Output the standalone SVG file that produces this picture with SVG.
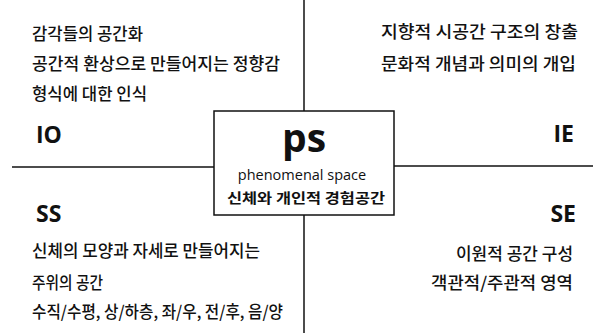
<svg xmlns="http://www.w3.org/2000/svg" width="593" height="333" viewBox="0 0 593 333">
<style>
.t{font-family:"Noto Sans CJK KR","Noto Sans",sans-serif;font-size:16.5px;font-weight:500;fill:#111}
.lab{font-family:"Open Sans","Noto Sans",sans-serif;font-weight:bold;font-size:23px;fill:#111}
.ln{stroke:#111;stroke-width:1.5;fill:none}
</style>
<rect width="593" height="333" fill="#fff"/>
<g id="connectors">
<line class="ln" x1="304" y1="0" x2="304" y2="111"/>
<line class="ln" x1="304" y1="215" x2="304" y2="333"/>
<line class="ln" x1="12" y1="167" x2="214" y2="167"/>
<line class="ln" x1="394" y1="166" x2="593" y2="166"/>
</g>
<g id="center">
<rect class="ln" x="214" y="111" width="180" height="104"/>
<text x="304" y="152" text-anchor="middle" style="font-family:'Open Sans',sans-serif;font-weight:bold;font-size:39px;fill:#111">ps</text>
<text x="302" y="180" text-anchor="middle" style="font-family:'Open Sans',sans-serif;font-size:14.5px;fill:#111">phenomenal space</text>
<text x="306" y="203" text-anchor="middle" class="t" style="font-weight:bold;font-size:14px" textLength="158" lengthAdjust="spacingAndGlyphs">신체와 개인적 경험공간</text>
</g>
<g id="IO">
<text class="lab" x="36" y="143">IO</text>
<text class="t" x="32" y="40" textLength="111" lengthAdjust="spacingAndGlyphs">감각들의 공간화</text>
<text class="t" x="32" y="70" textLength="248" lengthAdjust="spacingAndGlyphs">공간적 환상으로 만들어지는 정향감</text>
<text class="t" x="32" y="100" textLength="115" lengthAdjust="spacingAndGlyphs">형식에 대한 인식</text>
</g>
<g id="IE">
<text class="lab" x="574" y="142" text-anchor="end">IE</text>
<text class="t" x="381" y="38" textLength="197" lengthAdjust="spacingAndGlyphs">지향적 시공간 구조의 창출</text>
<text class="t" x="381" y="70" textLength="195" lengthAdjust="spacingAndGlyphs">문화적 개념과 의미의 개입</text>
</g>
<g id="SS">
<text class="lab" x="36" y="222">SS</text>
<text class="t" x="32" y="257" textLength="228" lengthAdjust="spacingAndGlyphs">신체의 모양과 자세로 만들어지는</text>
<text class="t" x="32" y="289" textLength="71" lengthAdjust="spacingAndGlyphs">주위의 공간</text>
<text class="t" x="32" y="318" textLength="251" lengthAdjust="spacingAndGlyphs">수직/수평, 상/하층, 좌/우, 전/후, 음/양</text>
</g>
<g id="SE">
<text class="lab" x="576" y="222" text-anchor="end">SE</text>
<text class="t" x="456" y="260" textLength="117" lengthAdjust="spacingAndGlyphs">이원적 공간 구성</text>
<text class="t" x="431" y="289" textLength="142" lengthAdjust="spacingAndGlyphs">객관적/주관적 영역</text>
</g>
</svg>
